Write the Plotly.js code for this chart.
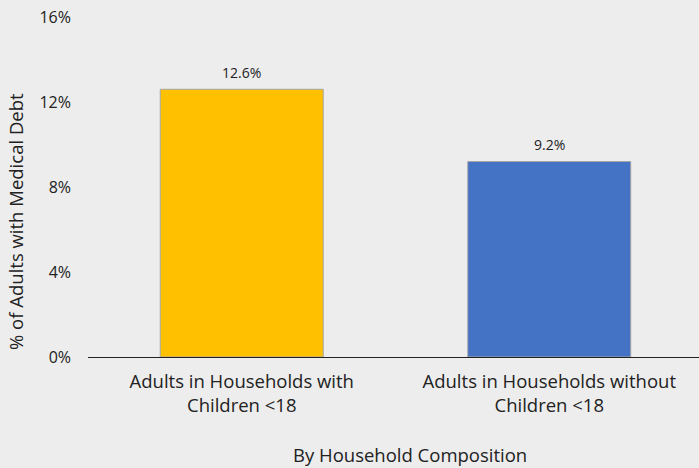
<!DOCTYPE html>
<html><head><meta charset="utf-8">
<script src="https://cdn.plot.ly/plotly-3.0.1.min.js"></script>
<style>html,body{margin:0;padding:0;background:#ededed;}</style>
</head><body>
<div id="chart" style="width:699px;height:468px;"></div>
<script>
const categories = ["Adults in Households with<br>Children <18", "Adults in Households without<br>Children <18"];
const values = [0.126, 0.092];
const labels = ["12.6%", "9.2%"];
const colors = ["#FFC000", "#4472C4"];
const yTicks = [0, 0.04, 0.08, 0.12, 0.16];
const yTickText = ["0%", "4%", "8%", "12%", "16%"];

const fontFam = "'Open Sans', sans-serif";
const annotations = categories.map((c, i) => ({
  x: c, y: values[i], xref: "x", yref: "y", text: labels[i], showarrow: false,
  yanchor: "bottom", yshift: 5.5, font: {family: fontFam, size: 14, color: "#222"}
}));
annotations.push({
  text: "% of Adults with Medical Debt", textangle: -90, showarrow: false,
  xref: "paper", yref: "paper", x: -0.1195, xanchor: "center", y: 0.4, yanchor: "middle",
  font: {family: fontFam, size: 18.5, color: "#222"}
});
annotations.push({
  text: "By Household Composition", showarrow: false,
  xref: "paper", yref: "paper", x: 0.527, xanchor: "center", y: -0.288, yanchor: "middle",
  font: {family: fontFam, size: 18.5, color: "#222"}
});
Plotly.newPlot("chart", [{
  type: "bar",
  x: categories,
  y: values,
  marker: {color: colors, line: {color: "#a6a6a6", width: 1}},
  hoverinfo: "none"
}], {
  width: 699, height: 468,
  paper_bgcolor: "#ededed", plot_bgcolor: "#ededed",
  margin: {l: 88, r: 0, t: 17, b: 111},
  bargap: 0.47,
  showlegend: false,
  font: {family: fontFam, size: 16, color: "#222"},
  annotations: annotations,
  xaxis: {
    range: [-0.5, 1.487],
    showline: true, linecolor: "#222", linewidth: 1.3,
    tickfont: {family: fontFam, size: 18.5, color: "#222"},
    ticks: "", ticklabelstandoff: 7
  },
  yaxis: {
    range: [0, 0.16], tickvals: yTicks, ticktext: yTickText,
    showgrid: false, zeroline: false, showline: false,
    ticks: "", ticklabelstandoff: 16,
    tickfont: {family: fontFam, size: 16, color: "#222"}
  }
}, {staticPlot: true, displayModeBar: false});
</script>
</body></html>
